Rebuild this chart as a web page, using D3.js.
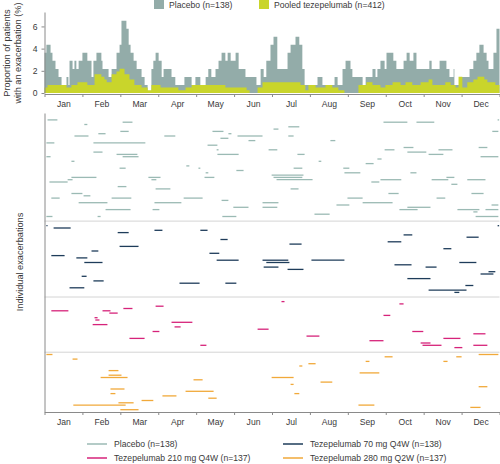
<!DOCTYPE html>
<html><head><meta charset="utf-8">
<script src="https://cdn.jsdelivr.net/npm/d3@7"></script>
<style>body{margin:0;background:#fff}svg{display:block;font-family:"Liberation Sans",Arial,sans-serif}</style>
</head><body><svg id="c" width="500" height="464"></svg>
<script>
// ---------- data ----------
const months = ["Jan","Feb","Mar","Apr","May","Jun","Jul","Aug","Sep","Oct","Nov","Dec"];
const yTicks = [0, 2, 4, 6];
// time in months from 1 Jan (0..12); value = % of patients with an ongoing exacerbation
const placeboSteps = [
[0.00,3.62],[0.05,4.35],[0.16,3.62],[0.21,2.90],[0.29,2.17],[0.37,1.45],[0.45,0.72],[0.58,1.45],[0.63,0.72],
[0.66,2.90],[0.74,2.17],[0.79,2.90],[0.84,2.17],[0.90,2.90],[1.00,3.62],[1.13,2.90],[1.24,1.45],[1.29,2.90],
[1.37,3.62],[1.50,2.90],[1.53,2.17],[1.69,1.45],[1.77,2.17],[1.90,3.62],[1.98,4.35],[2.03,6.52],[2.16,5.80],
[2.22,4.35],[2.27,3.62],[2.35,2.90],[2.43,2.17],[2.56,1.45],[2.64,0.72],[2.72,0],[2.82,2.17],[2.87,2.90],
[2.93,3.62],[3.01,2.90],[3.09,1.45],[3.14,2.17],[3.35,1.45],[3.45,0.72],[3.69,1.45],[3.88,0.72],[3.98,1.45],
[4.11,0.72],[4.25,1.45],[4.32,2.17],[4.40,1.45],[4.51,2.17],[4.59,2.90],[4.67,3.62],[4.77,2.90],[4.83,3.62],
[4.91,2.90],[5.04,3.62],[5.12,2.17],[5.30,1.45],[5.59,0.72],[5.70,2.17],[5.78,1.45],[5.85,2.90],[5.96,4.35],
[6.04,5.07],[6.14,2.17],[6.41,3.62],[6.49,4.35],[6.62,5.07],[6.72,4.35],[6.80,2.17],[6.86,0.72],[7.20,1.45],
[7.33,0.72],[7.65,1.45],[7.73,0.72],[7.86,2.17],[7.94,2.90],[8.07,2.17],[8.12,1.45],[8.39,0.72],[8.47,1.45],
[8.65,2.17],[8.73,1.45],[8.78,2.17],[8.86,2.90],[8.97,2.17],[9.02,3.62],[9.20,2.90],[9.28,2.17],[9.47,2.90],
[9.55,3.62],[9.63,2.90],[9.73,3.62],[9.81,2.17],[10.15,2.90],[10.21,2.17],[10.42,2.90],[10.60,2.17],[10.68,1.45],
[10.79,2.17],[10.81,0.72],[11.00,1.45],[11.21,2.17],[11.31,2.90],[11.39,3.62],[11.47,4.35],[11.58,3.62],
[11.66,2.90],[11.71,2.17],[11.84,3.62],[11.92,5.80],[12.00,5.80]
];
const pooledSteps = [
[0.00,0.49],[0.08,0.73],[0.58,0.49],[0.71,0.73],[0.87,0.97],[1.13,0.73],[1.32,1.70],[1.50,1.46],[1.58,1.21],
[1.64,0.97],[1.77,1.70],[1.90,1.94],[1.98,2.18],[2.11,1.70],[2.24,1.21],[2.37,0.73],[2.56,0.49],[2.72,0.24],
[2.82,0.73],[3.06,0.49],[3.53,0.24],[3.72,0.49],[3.88,0.73],[4.77,0.49],[5.33,0.24],[5.41,0],[5.62,0.49],
[5.75,0.97],[6.75,0.73],[6.88,0.24],[6.96,0.73],[7.15,0.49],[7.41,0.73],[7.59,0.49],[7.75,0.24],[7.91,0],
[8.28,0.73],[8.49,0.97],[8.65,0.73],[8.86,0.49],[8.99,0.73],[9.18,0.97],[9.39,0.73],[9.52,0.97],[9.70,0.73],
[9.92,0.97],[10.13,1.21],[10.23,0.73],[10.57,0.97],[10.71,0.73],[10.84,0.49],[10.92,1.46],[11.02,0.49],
[11.15,0.97],[11.31,1.21],[11.42,1.46],[11.60,1.21],[11.68,0.97],[11.89,0.73],[12.00,0.73]
];
// individual exacerbations: [start month, end month, patient row within arm]
const placeboSegs = [
[0.08,0.34,3],[1.05,1.13,5],[2.06,2.32,4],[2.00,2.22,8],[1.42,1.61,9],[0.79,1.16,10],[3.16,3.45,10],[4.43,4.72,8],
[4.85,4.93,9],[5.09,5.75,10],[4.64,4.85,11],[0.05,0.26,13],[1.29,2.66,13],[4.30,4.56,14],[4.54,4.59,16],
[1.29,1.53,17],[1.90,2.45,18],[2.06,2.48,19],[4.56,5.12,18],[0.05,0.16,19],[0.71,0.79,21],[1.98,2.14,24],
[3.74,3.82,23],[4.06,4.11,24],[4.25,4.32,26],[5.06,5.25,25],[0.71,1.37,28],[0.61,0.74,29],[0.13,0.61,30],
[2.74,3.06,28],[2.82,2.95,29],[4.22,4.48,28],[1.93,2.16,32],[2.93,3.32,33],[0.71,1.00,35],[1.03,1.21,36],
[0.18,0.40,37],[1.77,2.29,37],[3.67,4.17,37],[0.90,1.66,39],[2.90,3.61,39],[4.67,4.85,38],[1.61,2.27,42],
[2.85,3.03,42],[4.98,5.38,41],[0.05,0.21,45],[1.40,1.48,45],[4.69,5.06,45],[8.94,9.57,4],[9.81,10.28,4],
[11.95,11.99,3],[6.43,6.72,6],[6.04,6.17,7],[11.81,11.97,8],[6.43,6.57,10],[5.38,5.56,12],[7.54,7.67,12],
[5.91,6.14,16],[8.97,9.23,16],[9.47,9.73,15],[9.57,10.07,17],[10.39,10.76,16],[11.45,11.68,15],[6.67,6.86,18],
[10.13,10.52,18],[11.50,11.97,19],[8.78,8.89,20],[7.23,7.30,21],[8.47,8.68,22],[6.57,6.80,24],[7.88,8.04,24],
[7.91,8.33,26],[9.65,9.81,26],[5.99,6.83,27],[6.04,6.80,28],[6.12,7.07,29],[8.86,9.41,29],[8.62,8.83,30],
[10.21,10.65,29],[10.60,10.81,28],[11.15,11.63,29],[10.73,10.89,31],[6.49,6.70,33],[9.07,9.34,35],
[11.26,11.58,35],[7.99,8.39,37],[10.34,10.57,37],[5.75,6.17,39],[7.70,8.04,40],[8.39,9.18,39],[11.79,11.97,40],
[5.75,6.14,41],[9.57,10.18,41],[9.36,9.84,42],[10.89,11.47,42],[11.63,11.97,42],[11.31,11.42,43],[7.12,7.52,44],
[11.37,11.97,45]
];
const teze70Segs = [
[0.05,0.08,2],[0.24,0.69,3],[1.93,2.22,5],[2.90,3.11,4],[4.11,4.30,4],[4.64,4.83,8],[1.98,2.48,11],[1.24,1.42,13],
[0.18,0.53,15],[4.35,4.61,14],[0.84,1.13,16],[4.54,5.12,17],[1.05,1.53,18],[0.98,1.11,24],[1.29,1.56,26],
[3.56,4.09,27],[4.77,5.06,27],[0.66,1.05,29],[11.95,11.99,2],[9.47,9.70,6],[11.13,11.45,7],[6.46,6.78,10],
[9.05,9.41,9],[10.52,10.73,12],[5.75,6.43,17],[5.85,6.46,18],[7.04,7.91,17],[10.94,11.39,18],[9.23,9.68,19],
[5.78,6.17,20],[10.05,10.34,20],[6.41,6.83,21],[11.71,11.89,22],[11.50,11.84,23],[9.57,10.18,25],
[11.10,11.31,28],[10.13,11.13,30],[10.81,10.94,31]
];
const teze210Segs = [
[0.18,0.63,6],[1.53,1.74,6],[1.71,1.93,7],[2.08,2.32,5],[2.93,3.14,4],[1.32,1.40,9],[1.34,1.45,10],[1.27,1.66,12],
[3.35,3.90,11],[3.43,3.59,13],[2.85,3.03,15],[2.24,2.64,18],[4.11,4.27,21],[6.25,6.33,2],[9.36,9.47,3],
[8.94,9.12,8],[5.62,5.91,14],[9.70,9.99,15],[6.91,7.25,17],[11.31,11.63,16],[10.52,10.97,18],[8.57,8.94,19],
[9.92,10.18,20],[9.97,10.47,21],[11.31,11.68,21],[10.81,11.02,22]
];
const teze280Segs = [
[0.05,0.21,1],[0.74,0.87,3],[1.69,1.95,8],[1.69,2.03,10],[1.48,2.19,11],[3.93,4.17,12],[1.74,2.11,16],
[1.74,1.87,18],[3.72,4.46,17],[4.32,4.54,20],[2.56,2.87,21],[3.11,3.48,19],[1.95,2.35,22],[0.76,2.14,23],
[2.00,2.48,25],[8.47,8.57,4],[8.97,9.18,2],[10.52,10.63,4],[10.86,11.00,2],[11.45,11.97,1],[6.72,6.80,6],
[6.96,7.15,5],[5.99,6.57,11],[8.31,8.83,9],[6.49,6.57,14],[7.28,7.59,13],[6.59,6.72,18],[11.45,11.68,15],
[8.28,8.70,23],[11.23,11.50,24]
];
const armNames = ["Placebo (n=138)","Tezepelumab 70 mg Q4W (n=138)","Tezepelumab 210 mg Q4W (n=137)","Tezepelumab 280 mg Q2W (n=137)"];
const armRows = [47, 33, 24, 26];
const topLegend = ["Placebo (n=138)","Pooled tezepelumab (n=412)"];

// ---------- style ----------
const cPlacArea = "#93aca9", cPooled = "#c9d52b";
const armColors = ["#9bbab4", "#1e3c5a", "#d6237a", "#f1a93a"];
const axisCol = "#8a8a8a", textCol = "#3a3a3a";

const svg = d3.select("#c");
const x = d3.scaleLinear().domain([0, 12]).range([44.5, 499.5]);
const yTop = d3.scaleLinear().domain([0, 7.3]).range([93, 12]);
const totalRows = d3.sum(armRows);
const yBot = d3.scaleLinear().domain([0, totalRows]).range([113, 412]);

// ---------- top legend ----------
const tl = svg.append("g");
[[cPlacArea, 154], [cPooled, 259]].forEach(([c, lx], i) => {
  tl.append("rect").attr("x", lx).attr("y", -1).attr("width", 10).attr("height", 10).attr("fill", c);
  tl.append("text").attr("x", lx + 15).attr("y", 8).attr("font-size", 8.6).attr("fill", textCol).text(topLegend[i]);
});

// ---------- top area chart ----------
const area = d3.area().curve(d3.curveStepAfter).x(d => x(d[0])).y0(yTop(0)).y1(d => yTop(d[1]));
svg.append("path").datum(placeboSteps).attr("d", area).attr("fill", cPlacArea);
svg.append("path").datum(pooledSteps).attr("d", area).attr("fill", cPooled);

function styleAxis(g) {
  g.selectAll("path,line").attr("stroke", axisCol);
  g.selectAll("text").attr("fill", textCol).attr("font-family", "Liberation Sans, Arial, sans-serif");
}
// y axis top
svg.append("g").attr("transform", "translate(44.5,0)")
  .call(d3.axisLeft(yTop).tickValues(yTicks).tickSize(3).tickSizeOuter(0))
  .call(g => g.selectAll("text").attr("font-size", 8.6).attr("dx", "-1"))
  .call(styleAxis);
// x axes (ticks at month boundaries, labels centred in months)
function monthAxis(yPos) {
  svg.append("g").attr("transform", `translate(0,${yPos})`)
    .call(d3.axisBottom(x).tickValues(d3.range(0, 13)).tickFormat("").tickSize(3).tickSizeOuter(0))
    .call(styleAxis);
  svg.append("g").attr("transform", `translate(0,${yPos})`)
    .call(d3.axisBottom(x).tickValues(d3.range(12).map(i => i + 0.5)).tickFormat(d => months[Math.floor(d)]).tickSize(0).tickPadding(7))
    .call(g => g.select(".domain").remove())
    .call(g => g.selectAll("text").attr("font-size", 8.6))
    .call(styleAxis);
}
monthAxis(94);
monthAxis(412);

// y titles
svg.append("text").attr("transform", "translate(10,53) rotate(-90)").attr("text-anchor", "middle")
  .attr("font-size", 9.2).attr("fill", textCol).text("Proportion of patients");
svg.append("text").attr("transform", "translate(21,53) rotate(-90)").attr("text-anchor", "middle")
  .attr("font-size", 9.2).attr("fill", textCol).text("with an exacerbation (%)");
svg.append("text").attr("transform", "translate(23,262) rotate(-90)").attr("text-anchor", "middle")
  .attr("font-size", 9.2).attr("fill", textCol).text("Individual exacerbations");

// ---------- bottom: individual exacerbations ----------
const armSegs = [placeboSegs, teze70Segs, teze210Segs, teze280Segs];
const offsets = armRows.map((r, i) => d3.sum(armRows.slice(0, i)));
// separators
offsets.slice(1).forEach(o => {
  svg.append("line").attr("x1", x(0)).attr("x2", x(12)).attr("y1", yBot(o)).attr("y2", yBot(o))
    .attr("stroke", "#d4d4d4").attr("stroke-width", 1);
});
armSegs.forEach((segs, i) => {
  svg.append("g").selectAll("line").data(segs).join("line")
    .attr("x1", d => x(d[0])).attr("x2", d => x(d[1]))
    .attr("y1", d => yBot(offsets[i] + d[2])).attr("y2", d => yBot(offsets[i] + d[2]))
    .attr("stroke", armColors[i]).attr("stroke-width", 1.3);
});
svg.append("g").attr("transform", "translate(44.5,0)")
  .call(d3.axisLeft(yBot).tickValues([]).tickSizeOuter(0))
  .call(styleAxis);

// ---------- bottom legend ----------
const legPos = [[87, 444], [283, 444], [87, 458], [283, 458]];
armNames.forEach((n, i) => {
  const [lx, ly] = legPos[i];
  svg.append("line").attr("x1", lx).attr("x2", lx + 20).attr("y1", ly).attr("y2", ly)
    .attr("stroke", armColors[i]).attr("stroke-width", 1.5);
  svg.append("text").attr("x", lx + 27).attr("y", ly + 3).attr("font-size", 8.6).attr("fill", textCol).text(n);
});
</script></body></html>
